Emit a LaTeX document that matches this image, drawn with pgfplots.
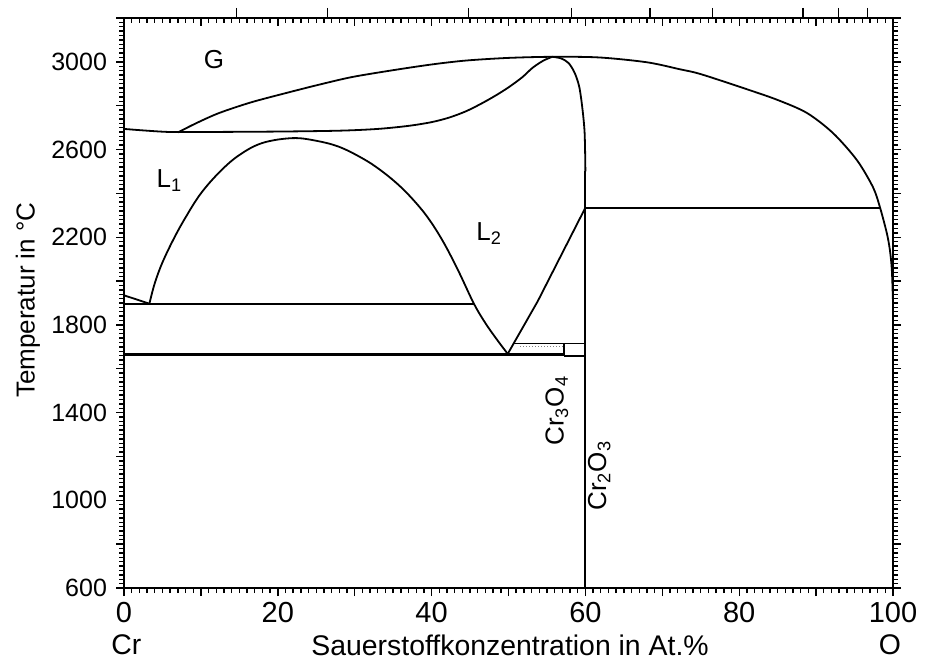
\documentclass[border=0pt]{standalone}
\usepackage{fontspec}
\setmainfont{Liberation Sans}
\usepackage{pgfplots}
\pgfplotsset{compat=1.18}

% common frame of the Cr--O diagram
\pgfplotsset{
  crframe/.style={
    at={(0,0)}, anchor=south west,
    scale only axis, width=384.5pt, height=285pt,
    xmin=0, xmax=100, ymin=600, ymax=3200,
    /pgf/number format/assume math mode=true,
  },
  ln/.style={black, solid, no markers, line width=0.9pt},
}

\begin{document}
\begin{tikzpicture}[font=\fontsize{13}{15}\selectfont]
\useasboundingbox (-62pt,-38pt) rectangle (400.5pt,294pt);

% top axis: inward ticks in at.%
\begin{axis}[crframe,
  axis line style={draw=none},
  xtick={0,10,...,100}, xticklabels={}, minor x tick num=9,
  xtick pos=right, ytick=\empty, tick align=inside,
  major tick length=4pt, minor tick length=2.5pt,
  tick style={line width=0.7pt, black}]
\end{axis}

% top axis: outward ticks in wt.% oxygen
\begin{axis}[crframe,
  axis line style={draw=none},
  xtick={14.6,26.5,44.8,58.2,68.4,76.5,88.3,92.9,96.7}, xticklabels={},
  xtick pos=right, ytick=\empty, tick align=outside,
  major tick length=5pt, tick style={line width=0.7pt, black}]
\end{axis}

\begin{axis}[crframe,
  axis line style={line width=0.8pt},
  tick align=outside, major tick length=4pt, minor tick length=2.5pt,
  tick style={line width=0.7pt, black},
  xtick={0,10,...,100}, xticklabels={0,,20,,40,,60,,80,,100},
  minor x tick num=9, xtick pos=left,
  ytick={600,800,...,3200},
  yticklabels={600,,1000,,1400,,1800,,2200,,2600,,3000,},
  minor y tick num=9, ytick pos=both,
  xticklabel style={font=\fontsize{14.5}{16}\selectfont, yshift=0.5pt},
  yticklabel style={font=\fontsize{12.5}{14}\selectfont, xshift=-1pt},
  clip=false]

% gas / liquid boundary (upper curve)
\addplot[ln, smooth, tension=0.5] coordinates {
  (7,2678) (9.5,2722) (12.4,2767) (16.5,2815) (21.1,2858) (25.5,2897)
  (29.7,2931) (35,2962) (40,2988) (44.5,3006) (50,3018) (55.7,3023)
  (61.8,3020) (68,2998) (72.3,2966) (75,2944) (81,2875) (85,2826)
  (88.8,2767) (92.2,2675) (95.3,2552) (97.4,2428) (98.3,2337)
  (99.2,2218) (99.6,2140) (99.85,2050) (100,1900)};

% boiling line of Cr and the lower gas boundary rising to the maximum
\addplot[ln, smooth, tension=0.5] coordinates {
  (0,2694) (3,2686) (6,2680) (10,2680) (20,2682) (28,2686) (33,2694)
  (37,2708) (40,2725) (42.3,2746) (44.5,2775) (46.6,2812) (48.5,2850)
  (50.1,2886) (51.8,2930) (53.1,2972) (54.5,3005) (55.7,3023)};

% falling branch from the maximum towards Cr2O3
\addplot[ln, smooth, tension=0.5] coordinates {
  (55.7,3023) (56.8,3016) (57.8,2995) (58.6,2950) (59.2,2886)
  (59.6,2790) (59.9,2675) (60,2500)};
\addplot[ln, line width=1pt] coordinates {(60,2500) (60,600)};

% miscibility gap L1 + L2
\addplot[ln, smooth, tension=0.6] coordinates {
  (3.3,1897) (4.0,1990) (5.0,2085) (6.5,2195) (8.0,2290) (10,2400)
  (12.5,2500) (15,2575) (18,2630) (21.9,2652) (25,2640) (28,2612)
  (31,2560) (33.2,2510) (35.5,2445) (37.5,2375) (39.5,2290)
  (41.5,2180) (43.5,2045) (45.5,1897) (47,1808) (48.5,1733) (49.9,1668)};

% liquidus of Cr2O3 on the L2 side
\addplot[ln] coordinates {(49.9,1668) (53.8,1908) (60,2335)};

% invariant lines
\addplot[ln] coordinates {(0,1935) (3.3,1897)};
\addplot[ln] coordinates {(0,1897) (45.5,1897)};
\addplot[ln, line width=1.7pt] coordinates {(0,1664) (57.2,1664)};
\addplot[ln] coordinates {(57.2,1660) (60,1660)};
\addplot[ln] coordinates {(57.2,1660) (57.2,1715)};
\addplot[ln] coordinates {(50.7,1715) (60,1715)};
\addplot[ln, gray, line width=0.5pt, densely dotted] coordinates {(51.5,1703) (57,1703)};
\addplot[ln] coordinates {(60,2335) (98.3,2335)};

% phase field labels
\node at (axis cs:11.7,3010) {G};
\node at (axis cs:5.9,2460) {L\textsubscript{1}};
\node at (axis cs:47.5,2218) {L\textsubscript{2}};
\node[rotate=90] at (axis cs:56.3,1409) {Cr\textsubscript{3}O\textsubscript{4}};
\node[rotate=90] at (axis cs:61.8,1112) {Cr\textsubscript{2}O\textsubscript{3}};

% axis titles
\begin{scope}[font=\fontsize{14.2}{16}\selectfont]
\node at (rel axis cs:0.003,0) [yshift=-28.5pt] {Cr};
\node at (rel axis cs:0.996,0) [yshift=-28.5pt] {O};
\node at (rel axis cs:0.502,0) [yshift=-28.5pt] {Sauerstoffkonzentration in At.\%};
\end{scope}
\node[rotate=90] at (rel axis cs:0,0.505) [yshift=48pt] {Temperatur in °C};
\end{axis}
\end{tikzpicture}
\end{document}
